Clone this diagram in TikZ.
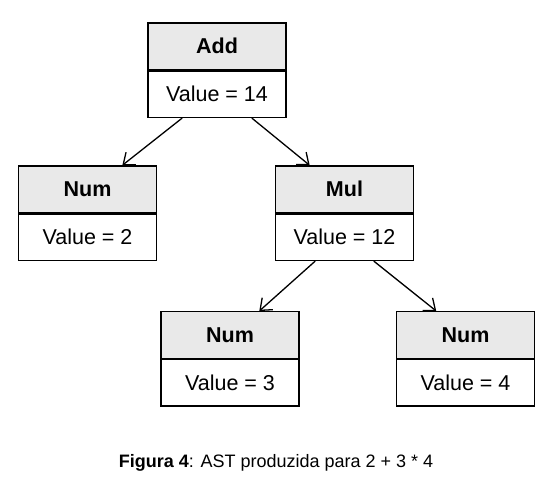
\documentclass[tikz,border=0pt]{standalone}
\usepackage{fontspec}
\setmainfont{Liberation Sans}
\usetikzlibrary{arrows.meta,calc}

\definecolor{headgray}{HTML}{E9E9E9}

\tikzset{
  cell/.style={draw=black, line width=1.4bp, minimum width=138bp, minimum height=46.5bp,
               inner sep=0pt, font=\fontsize{21.5bp}{25bp}\selectfont, text=black},
  headcell/.style={cell, fill=headgray, font=\fontsize{21.5bp}{25bp}\selectfont\bfseries},
  valcell/.style={cell, fill=white},
  edge/.style={draw=black, line width=1.3bp, -{Straight Barb[length=10bp,width=16bp,line width=1.3bp]}},
}

\begin{document}
\begin{tikzpicture}[x=1bp,y=-1bp]
  \useasboundingbox (0,0) rectangle (555,496);

  \node[headcell] (addH) at (217,46.25) {Add};
  \node[valcell, anchor=north] (addV) at (addH.south) {Value = 14};

  \node[headcell] (numaH) at (87.5,189.25) {Num};
  \node[valcell, anchor=north] (numaV) at (numaH.south) {Value = 2};

  \node[headcell] (mulH) at (344.5,189.25) {Mul};
  \node[valcell, anchor=north] (mulV) at (mulH.south) {Value = 12};

  \node[headcell] (numbH) at (230,335) {Num};
  \node[valcell, anchor=north] (numbV) at (numbH.south) {Value = 3};

  \node[headcell] (numcH) at (465.5,335) {Num};
  \node[valcell, anchor=north] (numcV) at (numcH.south) {Value = 4};

  % parent-to-child edges
  \draw[edge] ($(addV.south west)!0.25!(addV.south east)$) -- ($(numaH.north west)!0.75!(numaH.north east)$);
  \draw[edge] ($(addV.south west)!0.75!(addV.south east)$) -- ($(mulH.north west)!0.25!(mulH.north east)$);
  \draw[edge] ($(mulV.south west)!0.29!(mulV.south east)$) -- ($(numbH.north west)!0.71!(numbH.north east)$);
  \draw[edge] ($(mulV.south west)!0.71!(mulV.south east)$) -- ($(numcH.north west)!0.29!(numcH.north east)$);

  \node[font=\fontsize{18bp}{22bp}\selectfont, anchor=base] (caption) at (276,467)
    {\textbf{Figura 4}: AST produzida para 2 + 3 * 4};
\end{tikzpicture}
\end{document}
